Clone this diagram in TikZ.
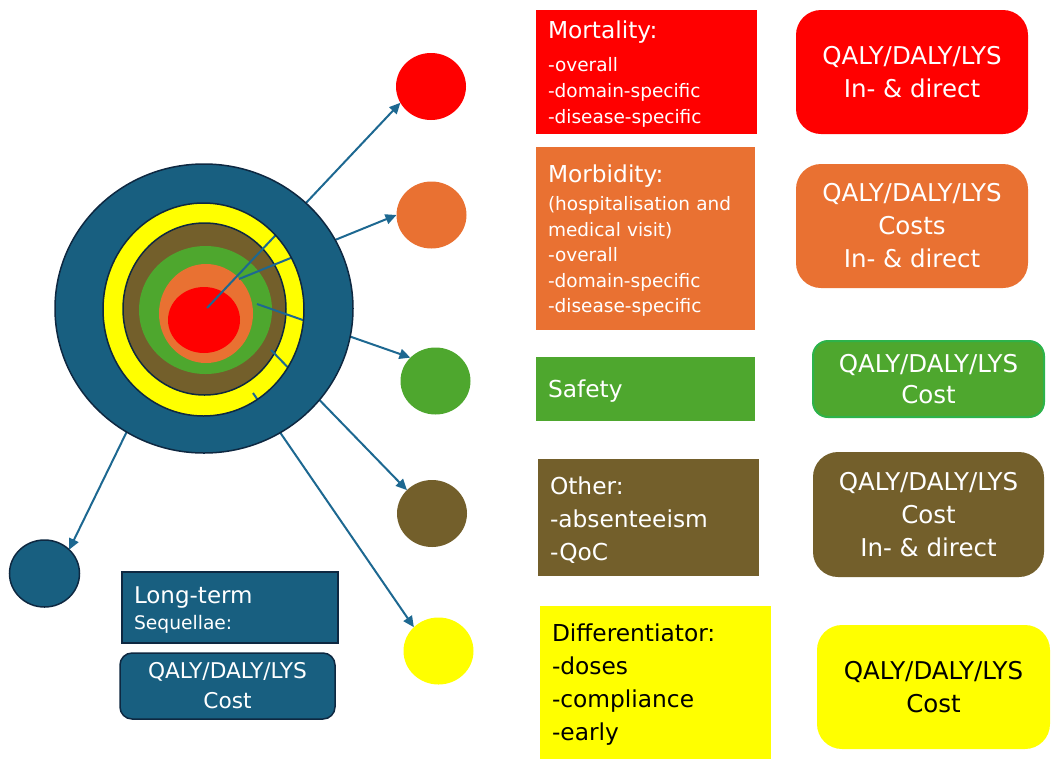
\documentclass[tikz,border=0pt]{standalone}
\usepackage{fontspec}
\setmainfont{DejaVu Sans}
\usetikzlibrary{shapes.geometric}
\usetikzlibrary{arrows.meta}

\definecolor{mred}{HTML}{FF0000}
\definecolor{morange}{HTML}{E97132}
\definecolor{mgreen}{HTML}{4EA72E}
\definecolor{mbrown}{HTML}{735F2B}
\definecolor{myellow}{HTML}{FFFF00}
\definecolor{mblue}{HTML}{185F80}
\definecolor{mline}{HTML}{1D6891}
\definecolor{mdark}{HTML}{0E2841}
\definecolor{mgreenline}{HTML}{2DB34A}

\newcommand{\headstrut}{\rule{0pt}{22.7pt}}

\begin{document}
\begin{tikzpicture}[x=1pt, y=-1pt,
                          ringnode/.style={ellipse, inner sep=0pt, outer sep=0pt},
                          roundnode/.style={ellipse, inner sep=0pt, outer sep=0pt, minimum width=70pt, minimum height=67pt},
                          squarednode/.style={rectangle, inner xsep=12pt, inner ysep=0pt, outer sep=0pt, align=left, text=white},
                          roundedbox/.style={rectangle, rounded corners=25pt, inner sep=0pt, outer sep=0pt, align=center, text=white, font=\fontsize{24.5}{33}\selectfont},
                          arrowline/.style={mline, line width=2pt, -{Triangle[length=11pt,width=10pt]}},
                      ]
                      \useasboundingbox (0,0) rectangle (1059,769);

                      % Rings
                      \node[ringnode, fill=myellow, minimum width=201pt, minimum height=213pt] (ring_yellow) at (203.5,309.5) {};
                      \node[ringnode, fill=mbrown, draw=mdark, line width=1.5pt, minimum width=163pt, minimum height=172pt] (ring_brown) at (204.5,309) {};
                      \node[ringnode, fill=mgreen, minimum width=133pt, minimum height=128pt] (ring_green) at (205.5,310) {};
                      \node[ringnode, fill=morange, minimum width=94pt, minimum height=99pt] (ring_orange) at (206,313.5) {};
                      \node[ringnode, fill=mred, minimum width=72pt, minimum height=66pt] (ring_red) at (204,320) {};

                      % Nodes
                      \node[roundnode, fill=mred]    (dot_red)    at (431,86.5)  {};
                      \node[roundnode, fill=morange] (dot_orange) at (431.5,215) {};
                      \node[roundnode, fill=mgreen]  (dot_green)  at (435.5,381) {};
                      \node[roundnode, fill=mbrown]  (dot_brown)  at (432,513.5) {};
                      \node[roundnode, fill=myellow] (dot_yellow) at (438.5,651) {};
                      \node[roundnode, fill=mblue, draw=mdark, line width=1.5pt] (dot_blue) at (44.5,573.5) {};

                      \node[squarednode, fill=mred, text width=197pt, minimum height=124pt, font=\fontsize{18.5}{26}\selectfont] (mortality) at (646.5,72)
                          {{\fontsize{23.3}{28}\selectfont\headstrut Mortality:}\\[7pt]
                           -overall\\ -domain-specific\\ -disease-specific};
                      \node[squarednode, fill=morange, text width=195pt, minimum height=183pt, font=\fontsize{18.5}{25.5}\selectfont] (morbidity) at (645.5,238.5)
                          {{\fontsize{23.3}{28}\selectfont\headstrut Morbidity:}\\[2.5pt]
                           (hospitalisation and\\ medical visit)\\ -overall\\ -domain-specific\\ -disease-specific};
                      \node[squarednode, fill=mgreen, text width=195pt, minimum height=64pt, font=\fontsize{23.3}{33}\selectfont] (safety) at (645.5,389) {\headstrut Safety};
                      \node[squarednode, fill=mbrown, text width=197pt, minimum height=117pt, font=\fontsize{23.3}{33}\selectfont] (other) at (648.5,517.5)
                          {\headstrut Other:\\ -absenteeism\\ -QoC};
                      \node[squarednode, fill=myellow, text=black, text width=207pt, minimum height=153pt, font=\fontsize{23.3}{33}\selectfont] (differentiator) at (655.5,682.5)
                          {\headstrut Differentiator:\\ -doses\\ -compliance\\ -early};
                      \node[squarednode, fill=mblue, draw=mdark, line width=1.5pt, text width=192pt, minimum height=71pt, font=\fontsize{18.7}{26}\selectfont] (longterm) at (230,607.5)
                          {{\fontsize{23}{26}\selectfont\headstrut Long-term}\\ Sequellae:};

                      \node[roundedbox, fill=mred, minimum width=232pt, minimum height=124pt] (qaly_red) at (912,72) {QALY/DALY/LYS\\ In- \& direct};
                      \node[roundedbox, fill=morange, minimum width=232pt, minimum height=124pt] (qaly_orange) at (912,226) {QALY/DALY/LYS\\ Costs\\ In- \& direct};
                      \node[roundedbox, fill=mgreen, draw=mgreenline, line width=2pt, rounded corners=15pt, minimum width=231pt, minimum height=76pt, font=\fontsize{24.5}{31}\selectfont] (qaly_green) at (928.5,379) {QALY/DALY/LYS\\ Cost};
                      \node[roundedbox, fill=mbrown, minimum width=231pt, minimum height=125pt] (qaly_brown) at (928.5,514.5) {QALY/DALY/LYS\\ Cost\\ In- \& direct};
                      \node[roundedbox, fill=myellow, text=black, minimum width=233pt, minimum height=124pt] (qaly_yellow) at (933.5,687) {QALY/DALY/LYS\\ Cost};
                      \node[roundedbox, fill=mblue, draw=mdark, line width=1.5pt, rounded corners=12pt, minimum width=215pt, minimum height=66pt, font=\fontsize{21.7}{30}\selectfont] (qaly_blue) at (227.5,686) {QALY/DALY/LYS\\ Cost};

                      % Lines
                      \coordinate (start_red)    at (207,308);
                      \coordinate (start_orange) at (239,279);
                      \coordinate (start_green)  at (257,304);
                      \coordinate (start_brown)  at (271,350);
                      \coordinate (start_yellow) at (253,393);
                      \coordinate (start_blue)   at (132,421);
                      \draw[arrowline] (start_red) -- (dot_red.208);
                      \draw[arrowline] (start_orange) -- (dot_orange.180);
                      \draw[arrowline] (start_green) -- (dot_green.137);
                      \draw[arrowline] (start_brown) -- (dot_brown.137);
                      \draw[arrowline] (start_yellow) -- (dot_yellow.136);
                      \draw[arrowline] (start_blue) -- (dot_blue.44);

                      % Outer ring
                      \fill[mblue, even odd rule] (204,308.5) ellipse [x radius=149, y radius=144.5]
                                                   (203.5,309.5) ellipse [x radius=100.5, y radius=106.5];
                      \draw[mdark, line width=1.5pt] (204,308.5) ellipse [x radius=149, y radius=144.5];
                      \draw[mdark, line width=1.5pt] (203.5,309.5) ellipse [x radius=100.5, y radius=106.5];
                  \end{tikzpicture}
\end{document}
